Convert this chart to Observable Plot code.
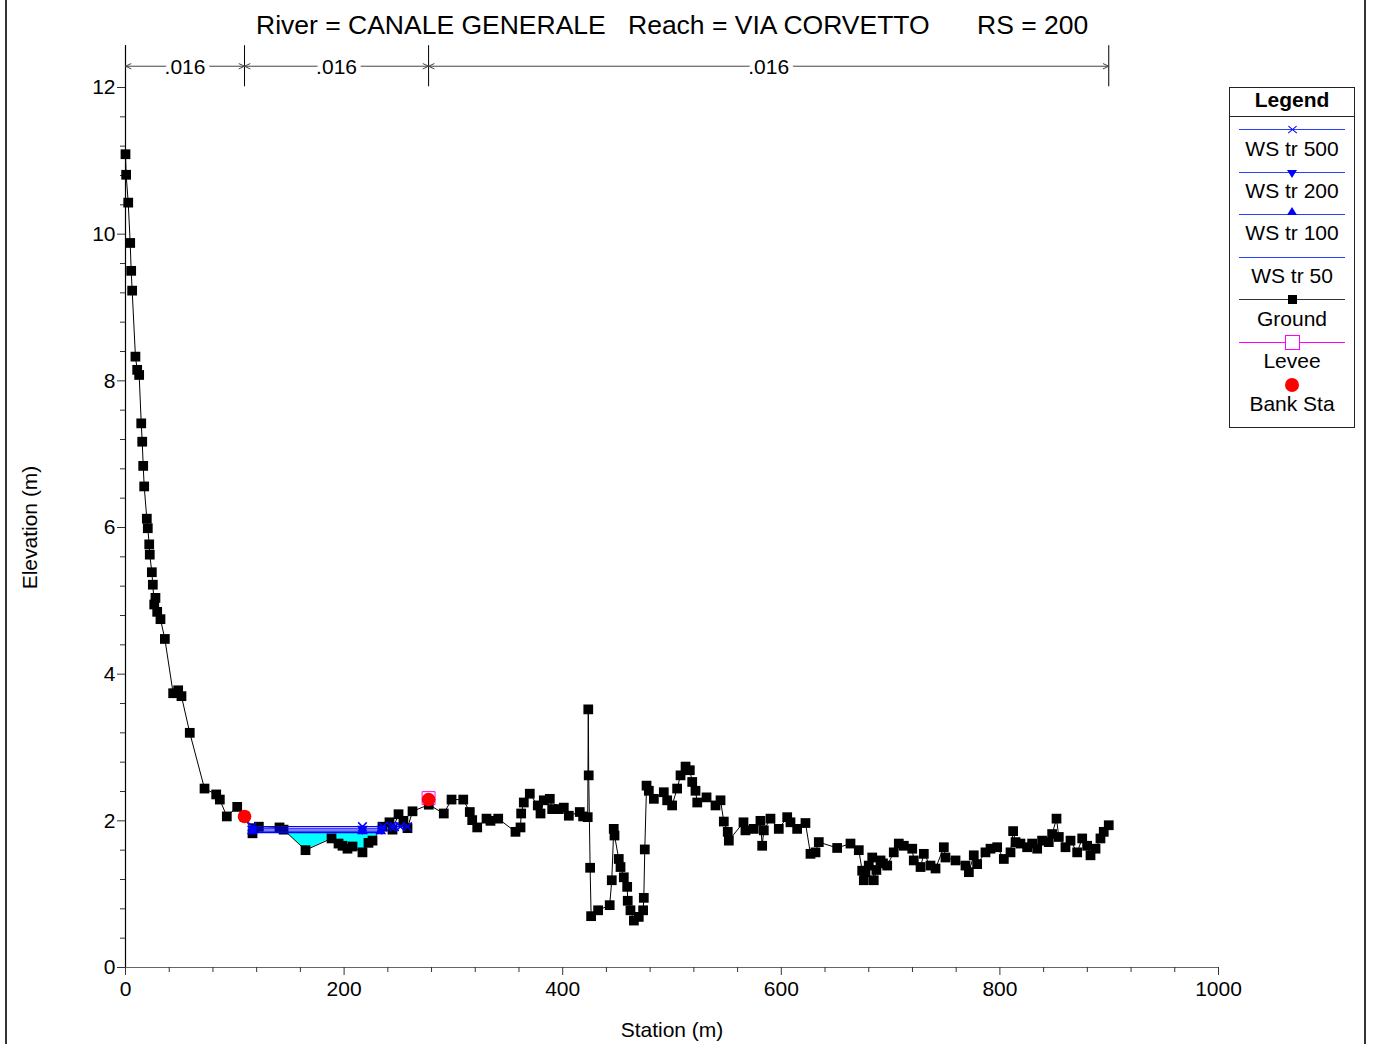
<!DOCTYPE html>
<html>
<head>
<meta charset="utf-8">
<script src="https://cdn.jsdelivr.net/npm/d3@7"></script>
<script src="https://cdn.jsdelivr.net/npm/@observablehq/plot@0.6"></script>
<style>
  body { margin: 0; background: #fff; font-family: "Liberation Sans", Arial, sans-serif; }
  #wrap { position: relative; width: 1374px; height: 1044px; overflow: hidden; background: #fff; }
  #title { position: relative; width: 1374px; height: 40px; }
  .t { position: absolute; top: 12px; font-size: 26.5px; line-height: 26px; white-space: nowrap; color: #000; }
  .frame { position: absolute; top: 0; width: 2px; height: 1044px; background: #333; }
  #legend { position: absolute; left: 1229px; top: 87px; width: 126px; height: 341px; border: 1px solid #222; box-sizing: border-box; background: #fff; }
  #legend .lab { position: absolute; left: 0; width: 124px; text-align: center; font-size: 21px; height: 24px; line-height: 24px; color: #000; white-space: nowrap; }
  #legend .sep { position: absolute; left: 0; width: 124px; height: 0; border-top: 1px solid #222; }
  #legend .ln { position: absolute; left: 9px; width: 106px; height: 0; }
  #legend .mk { position: absolute; }
</style>
</head>
<body>
<div id="wrap">
  <div id="title"></div>
  <div id="chart"></div>
  <div id="legend"></div>
  <div class="frame" style="left:5px"></div>
  <div class="frame" style="left:1364px"></div>
</div>
<script>
// ---------- DATA ----------
const titleParts = ["River = CANALE GENERALE", "Reach = VIA CORVETTO", "RS = 200"];
const titleLefts = [256, 628, 977];

const xLabel = "Station (m)";
const yLabel = "Elevation (m)";

const xTicks = [0, 200, 400, 600, 800, 1000];
const xMinorTicks = [40, 80, 120, 160, 240, 280, 320, 360, 440, 480, 520, 560, 640, 680, 720, 760, 840, 880, 920, 960];
const yTicks = [0, 2, 4, 6, 8, 10, 12];
const yMinorTicks = [0.4, 0.8, 1.2, 1.6, 2.4, 2.8, 3.2, 3.6, 4.4, 4.8, 5.2, 5.6, 6.4, 6.8, 7.2, 7.6, 8.4, 8.8, 9.2, 9.6, 10.4, 10.8, 11.2, 11.6];

// Ground profile
const groundStation = [
  0, 0.6, 2.5, 4.3, 5.2, 6.1, 9.1, 10.7, 12.5, 14.4, 15.3, 16.2, 17.1, 19.5, 20.4, 21.7, 22.2, 24.1, 25.0, 26.3,
  27.4, 29.0, 32.0, 36.0, 43.6, 48.2, 51.2, 58.8, 72.3, 83.0, 86.3, 92.7, 102.2, 108.9, 116.2, 118, 122, 140.9, 144.6, 164.7,
  188.5, 194.9, 198.5, 203.1, 207.7, 216.8, 222.3, 226.0, 235.1, 241.5, 244.3, 249.8, 254.3, 258, 262.6, 277.5, 291.2, 298.3, 309.0, 315.0,
  317.2, 321.8, 330.3, 333.9, 341.0, 356.8, 361.4, 362.0, 364.4, 369.9, 377.2, 379.7, 382.7, 388.2, 390.4, 396.4, 401.0, 405.6, 415.6, 418.7,
  422.9, 423.4, 423.8, 425.1, 426.0, 432.4, 443.0, 444.9, 446.7, 447.4, 451.3, 452.9, 455.9, 459.0, 459.5, 462.0, 465.1, 469.6, 473.6, 474.2,
  475.1, 476.7, 478.8, 483.4, 492.5, 495.6, 500.1, 504.7, 507.8, 512.4, 516.3, 518.5, 521.5, 523.1, 531.6, 539.8, 544.4, 547.4, 551.0, 552.0,
  565.4, 567.2, 574.8, 580.9, 582.5, 584.0, 590.1, 597.7, 605.4, 608.4, 614.5, 622.1, 626.7, 631.3, 634.3, 651.1, 663.3, 670.9, 674.0, 675.5,
  677.0, 680.0, 683.2, 684.6, 687.0, 690.8, 693.0, 696.9, 702.9, 707.5, 712.1, 719.8, 721.2, 727.4, 730.4, 736.5, 741.1, 748.7, 750.2, 759.4,
  768.5, 771.6, 776.1, 779.2, 786.8, 791.4, 797.5, 803.6, 809.7, 812.1, 814.3, 818.8, 824.9, 829.5, 834.1, 838.6, 844.7, 847.8, 851.8, 853.9,
  860.0, 864.6, 870.7, 875.3, 879.8, 882.9, 887.5, 892.0, 895.0, 899.6
];
const groundElev = [
  11.09, 10.81, 10.43, 9.88, 9.50, 9.23, 8.33, 8.15, 8.08, 7.42, 7.17, 6.84, 6.56, 6.12, 5.99, 5.77, 5.63, 5.39, 5.22, 4.95,
  5.04, 4.85, 4.75, 4.48, 3.74, 3.78, 3.70, 3.20, 2.44, 2.36, 2.29, 2.06, 2.19, 2.06, 1.83, 1.90, 1.92, 1.91, 1.88, 1.60,
  1.76, 1.69, 1.66, 1.62, 1.65, 1.57, 1.70, 1.73, 1.92, 1.98, 1.88, 2.09, 2.00, 1.90, 2.13, 2.22, 2.10, 2.29, 2.29, 2.12,
  2.01, 1.91, 2.03, 2.00, 2.03, 1.85, 1.91, 2.10, 2.25, 2.37, 2.21, 2.10, 2.28, 2.30, 2.16, 2.16, 2.18, 2.07, 2.12, 2.06,
  2.05, 3.52, 2.62, 1.36, 0.70, 0.78, 0.85, 1.19, 1.89, 1.80, 1.48, 1.37, 1.23, 1.10, 0.91, 0.78, 0.64, 0.69, 0.78, 0.95,
  1.61, 2.48, 2.41, 2.30, 2.39, 2.28, 2.21, 2.44, 2.62, 2.74, 2.69, 2.53, 2.41, 2.25, 2.32, 2.21, 2.28, 1.99, 1.85, 1.73,
  1.98, 1.87, 1.89, 2.00, 1.66, 1.87, 2.03, 1.89, 2.05, 1.98, 1.89, 1.97, 1.55, 1.57, 1.71, 1.63, 1.69, 1.60, 1.32, 1.19,
  1.30, 1.39, 1.50, 1.19, 1.33, 1.46, 1.42, 1.39, 1.57, 1.69, 1.66, 1.62, 1.46, 1.37, 1.55, 1.39, 1.35, 1.64, 1.50, 1.46,
  1.39, 1.30, 1.53, 1.41, 1.57, 1.62, 1.64, 1.48, 1.57, 1.86, 1.71, 1.69, 1.64, 1.69, 1.62, 1.73, 1.71, 1.82, 2.03, 1.78,
  1.64, 1.73, 1.57, 1.76, 1.66, 1.53, 1.62, 1.76, 1.85, 1.94
];

// Water surfaces
const wsNames = ["WS tr 500", "WS tr 200", "WS tr 100", "WS tr 50"];
const wsElev = [1.92, 1.89, 1.86, 1.84];
const wsSegments = [
  [[116, 216.8, 235.5], [243, 246, 251.5, 258]],
  [[116, 216.8, 234.5]],
  [[116, 216.8, 233.5]],
  [[116, 216.8, 231]]
];

// Levee and bank stations
const leveeStation = [277.3];
const leveeElev = [2.31];
const bankStation = [108.9, 277.3];
const bankElev = [2.06, 2.29];

// Manning's n
const nBreaks = [0, 108.9, 277.3, 899.6];
const nValues = [".016", ".016", ".016"];

// Legend
const legendTitle = "Legend";
const legendItems = ["WS tr 500", "WS tr 200", "WS tr 100", "WS tr 50", "Ground", "Levee", "Bank Sta"];

// ---------- BUILD ----------
const ground = groundStation.map((s, i) => ({s, e: groundElev[i]}));

function groundAt(x) {
  for (let i = 0; i < ground.length - 1; i++) {
    const a = ground[i], b = ground[i + 1];
    if (x >= a.s && x <= b.s) return b.s === a.s ? a.e : a.e + (b.e - a.e) * (x - a.s) / (b.s - a.s);
  }
  return NaN;
}

// Fill polygon between ground and lowest water surface
const fillW = wsElev[wsElev.length - 1];
const fillL = wsSegments[wsSegments.length - 1][0][0];
const fillR = wsSegments[wsSegments.length - 1][0].slice(-1)[0];
const pts = [{s: fillL, e: groundAt(fillL)}];
ground.forEach(p => { if (p.s > fillL && p.s < fillR) pts.push(p); });
pts.push({s: fillR, e: groundAt(fillR)});
const fillData = [];
for (let i = 0; i < pts.length; i++) {
  fillData.push({s: pts[i].s, g: Math.min(pts[i].e, fillW), w: fillW});
  if (i < pts.length - 1) {
    const a = pts[i], b = pts[i + 1];
    if ((a.e - fillW) * (b.e - fillW) < 0) {
      const sx = a.s + (fillW - a.e) * (b.s - a.s) / (b.e - a.e);
      fillData.push({s: sx, g: fillW, w: fillW});
    }
  }
}

const wsData = [];
wsNames.forEach((name, i) => {
  wsSegments[i].forEach((seg, j) => seg.forEach(s => wsData.push({name, seg: name + j, s, e: wsElev[i]})));
});

const levee = leveeStation.map((s, i) => ({s, e: leveeElev[i]}));
const bank = bankStation.map((s, i) => ({s, e: bankElev[i]}));

const nArrowY = 12.29, nTickLo = 12.01, nTickHi = 12.57;
const nSegs = nValues.map((v, i) => ({a: nBreaks[i], b: nBreaks[i + 1], m: (nBreaks[i] + nBreaks[i + 1]) / 2, v}));

const BLUE = "#0000ff";
const font = "Liberation Sans, Arial, sans-serif";

const chart = Plot.plot({
  width: 1374,
  height: 1004,
  marginLeft: 125,
  marginRight: 156,
  marginTop: 47,
  marginBottom: 77,
  x: {domain: [0, 1000], label: null},
  y: {domain: [0, 12], label: null},
  style: {fontFamily: font, fontSize: "21px", color: "black", background: "white", overflow: "visible"},
  marks: [
    // water fill
    Plot.areaY(fillData, {x: "s", y1: "g", y2: "w", fill: "#00ffff", curve: "linear"}),
    // axes
    Plot.ruleY([0], {stroke: "#666", strokeWidth: 1.2}),
    Plot.ruleX([0], {y1: 0, y2: nTickHi, stroke: "black", strokeWidth: 1.2}),
    Plot.axisX(xMinorTicks, {tickSize: 5, tickFormat: () => "", stroke: "#333", label: null}),
    Plot.axisX(xTicks, {tickSize: 8, tickPadding: 6, fontSize: 21, stroke: "#333", label: null, tickFormat: d => String(d)}),
    Plot.axisY(yMinorTicks, {tickSize: 5, tickFormat: () => "", stroke: "#333", label: null}),
    Plot.axisY(yTicks, {tickSize: 8, tickPadding: 2, fontSize: 21, stroke: "#333", label: null, tickFormat: d => String(d)}),
    Plot.text([xLabel], {frameAnchor: "bottom", text: d => d, dy: 69, fontSize: 21, fill: "black", textAnchor: "middle"}),
    Plot.text([yLabel], {frameAnchor: "left", text: d => d, rotate: -90, dx: -95, fontSize: 21, fill: "black", textAnchor: "middle"}),
    // Manning's n
    Plot.ruleX(nBreaks, {y1: nTickLo, y2: nTickHi, stroke: "black", strokeWidth: 1}),
    Plot.arrow(nSegs, {x1: "m", y1: () => nArrowY, x2: "a", y2: () => nArrowY, stroke: "#444", strokeWidth: 1, headLength: 9, headAngle: 50}),
    Plot.arrow(nSegs, {x1: "m", y1: () => nArrowY, x2: "b", y2: () => nArrowY, stroke: "#444", strokeWidth: 1, headLength: 9, headAngle: 50}),
    Plot.text(nSegs, {x: "m", y: () => nArrowY, text: "v", fontSize: 21, fill: "black", stroke: "white", strokeWidth: 10, paintOrder: "stroke", dy: 1}),
    // ground
    Plot.line(ground, {x: "s", y: "e", stroke: "black", strokeWidth: 1}),
    Plot.dot(ground, {x: "s", y: "e", symbol: "square", fill: "black", r: 5.5}),
    // water surfaces
    Plot.line(wsData, {x: "s", y: "e", z: "seg", stroke: BLUE, strokeWidth: 1.3}),
    Plot.dot(wsData.filter(d => d.name === wsNames[0]), {x: "s", y: "e", symbol: "times", stroke: BLUE, strokeWidth: 1.5, r: 4}),
    Plot.dot(wsData.filter(d => d.name === wsNames[1]), {x: "s", y: "e", symbol: "triangle", rotate: 180, fill: BLUE, r: 4}),
    Plot.dot(wsData.filter(d => d.name === wsNames[2]), {x: "s", y: "e", symbol: "triangle", fill: BLUE, r: 4}),
    // levee, bank
    Plot.dot(levee, {x: "s", y: "e", symbol: "square", stroke: "#ff00ff", fill: "none", strokeWidth: 1, r: 7.3}),
    Plot.dot(bank, {x: "s", y: "e", fill: "#ff0000", r: 6.8})
  ]
});
document.getElementById("chart").appendChild(chart);

// Title
const title = document.getElementById("title");
titleParts.forEach((t, i) => {
  const d = document.createElement("div");
  d.className = "t";
  d.style.left = titleLefts[i] + "px";
  d.textContent = t;
  title.appendChild(d);
});

// Legend (HTML)
const lg = document.getElementById("legend");
function add(html) { lg.insertAdjacentHTML("beforeend", html); }
add(`<div class="lab" style="top:0px;font-weight:bold">${legendTitle}</div>`);
add(`<div class="sep" style="top:28px"></div>`);
const lineY = [41, 84, 126, 169, 211, 254];
const labY = [49, 91, 133, 176, 219, 261, 304];
const lineColors = ["#2a40ff", "#2a40ff", "#2a40ff", "#2a40ff", "#333", "#ff00ff"];
lineY.forEach((y, i) => add(`<div class="ln" style="top:${y}px;border-top:1px solid ${lineColors[i]}"></div>`));
legendItems.forEach((t, i) => add(`<div class="lab" style="top:${labY[i]}px">${t}</div>`));
const cx = 62;
// x marker
add(`<div class="mk" style="left:${cx - 5}px;top:${lineY[0] - 0.5}px;width:11px;height:1.4px;background:${BLUE};transform:rotate(40deg)"></div>`);
add(`<div class="mk" style="left:${cx - 5}px;top:${lineY[0] - 0.5}px;width:11px;height:1.4px;background:${BLUE};transform:rotate(-40deg)"></div>`);
// down triangle
add(`<div class="mk" style="left:${cx - 5}px;top:${lineY[1] - 2}px;width:0;height:0;border-left:5px solid transparent;border-right:5px solid transparent;border-top:8px solid ${BLUE}"></div>`);
// up triangle
add(`<div class="mk" style="left:${cx - 5}px;top:${lineY[2] - 7}px;width:0;height:0;border-left:5px solid transparent;border-right:5px solid transparent;border-bottom:8px solid ${BLUE}"></div>`);
// ground square
add(`<div class="mk" style="left:${cx - 4}px;top:${lineY[4] - 4}px;width:9px;height:9px;background:#000"></div>`);
// levee hollow square
add(`<div class="mk" style="left:${cx - 7}px;top:${lineY[5] - 7}px;width:13px;height:13px;border:1px solid #ff00ff;background:#fff"></div>`);
// bank dot
add(`<div class="mk" style="left:${cx - 7}px;top:${290}px;width:14px;height:14px;border-radius:50%;background:#ff0000"></div>`);
</script>
</body>
</html>
